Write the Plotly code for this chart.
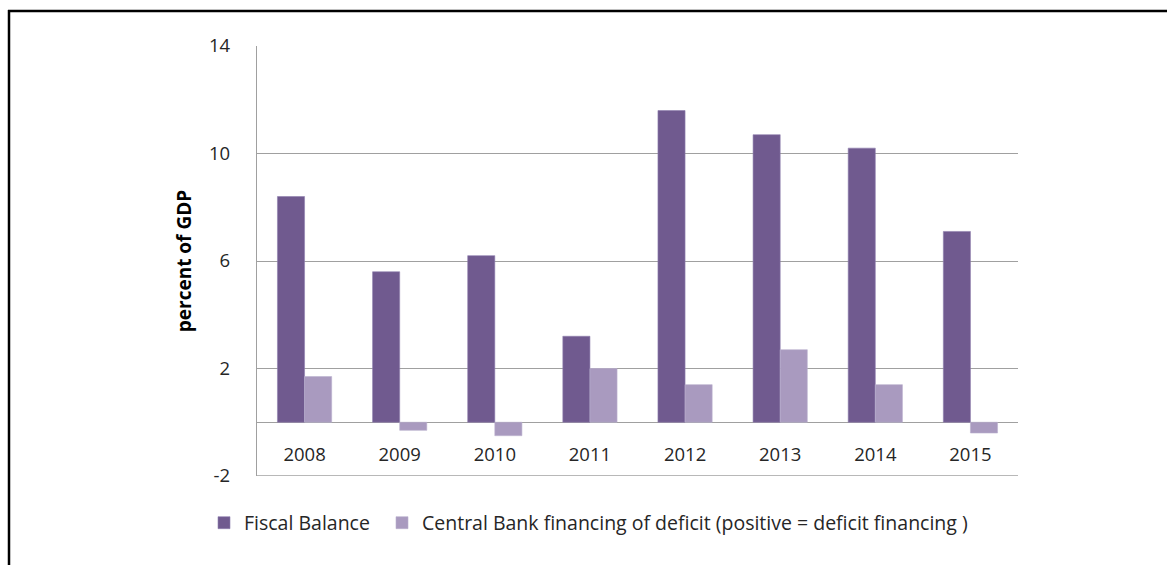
import plotly.graph_objects as go

years = ["2008", "2009", "2010", "2011", "2012", "2013", "2014", "2015"]
fiscal_balance = [8.4, 5.6, 6.2, 3.2, 11.6, 10.7, 10.2, 7.1]
cb_financing = [1.7, -0.3, -0.5, 2.0, 1.4, 2.7, 1.4, -0.4]
y_ticks = [-2, 2, 6, 10, 14]
y_tick_labels = ["-2", "2", "6", "10", "14"]

dark = "#705A8F"
light = "#A99ABF"
grid = "#A0A0A0"
font_family = "Open Sans, Noto Sans, sans-serif"

fig = go.Figure()
fig.add_trace(go.Bar(
    x=years, y=fiscal_balance, name="Fiscal Balance", legend="legend",
    marker=dict(color=dark, line=dict(color="#8E7FAE", width=0.6)),
))
fig.add_trace(go.Bar(
    x=years, y=cb_financing, legend="legend2",
    name="Central Bank financing of deficit (positive = deficit financing )",
    marker=dict(color=light, line=dict(color="#BBB0CE", width=0.6)),
))

W, H = 1167, 565
ml, mr, mt, mb = 257, 149, 46, 89
pw, ph = W - ml - mr, H - mt - mb


def px_x(px):
    return (px - ml) / pw


def px_y(py):
    return (H - mb - py) / ph


legend_style = dict(
    orientation="h", y=px_y(523), xanchor="left", yanchor="middle",
    font=dict(size=19.5, color="#262626"), itemwidth=30,
    bgcolor="rgba(0,0,0,0)",
)

fig.update_layout(
    width=W, height=H,
    margin=dict(l=ml, r=mr, t=mt, b=mb),
    paper_bgcolor="white", plot_bgcolor="white",
    barmode="group", bargap=0.43, bargroupgap=0,
    font=dict(family=font_family, size=18, color="#262626"),
    showlegend=True,
    legend=dict(x=px_x(204), **legend_style),
    legend2=dict(x=px_x(382), **legend_style),
    xaxis=dict(
        type="category", anchor="free", position=(0 - (-2)) / 16,
        showline=False, showgrid=False,
        ticks="outside", ticklen=16, tickcolor="rgba(0,0,0,0)",
        tickfont=dict(size=18.5, color="#262626"),
    ),
    yaxis=dict(
        range=[-2, 14], tickmode="array", tickvals=y_ticks, ticktext=y_tick_labels,
        showgrid=True, gridcolor=grid, gridwidth=1.3,
        zeroline=True, zerolinecolor=grid, zerolinewidth=1.3,
        showline=True, linecolor=grid, linewidth=1.3,
        ticks="", ticklabelstandoff=22,
        tickfont=dict(size=18.5, color="#262626"),
        title=dict(text="<b>percent of GDP</b>", font=dict(size=19, color="#000000"),
                   standoff=12),
    ),
    shapes=[
        # bottom edge of the plot box at -2
        dict(type="line", xref="paper", yref="y", x0=0, x1=1, y0=-2, y1=-2,
             line=dict(color=grid, width=1.3)),
        # outer frame (top and left)
        dict(type="line", xref="paper", yref="paper",
             x0=px_x(8), x1=px_x(1170), y0=px_y(11), y1=px_y(11),
             line=dict(color="black", width=2.5)),
        dict(type="line", xref="paper", yref="paper",
             x0=px_x(9), x1=px_x(9), y0=px_y(10), y1=px_y(570),
             line=dict(color="black", width=2.5)),
    ],
)

fig.write_html("out.html")
